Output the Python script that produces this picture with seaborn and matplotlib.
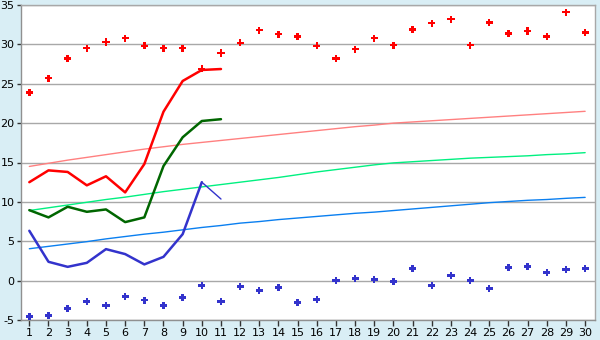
import numpy as np
import pandas as pd
import matplotlib
matplotlib.use("Agg")
import matplotlib.pyplot as plt
import seaborn as sns

days = list(range(1, 31))

record_max = [23.9, 25.7, 28.2, 29.5, 30.3, 30.8, 29.8, 29.5, 29.5, 26.9,
              28.9, 30.2, 31.8, 31.3, 31.0, 29.8, 28.2, 29.4, 30.8, 29.9,
              31.9, 32.7, 33.2, 29.9, 32.8, 31.4, 31.7, 31.0, 34.1, 31.5]
record_min = [-4.55, -4.42, -3.53, -2.65, -3.15, -2.0, -2.5, -3.15, -2.14, -0.6,
              -2.65, -0.74, -1.25, -0.87, -2.77, -2.4, 0.0, 0.28, 0.15, -0.1,
              1.55, -0.6, 0.66, 0.0, -1.0, 1.68, 1.8, 1.04, 1.42, 1.55]

obs_days = list(range(1, 12))
obs_max = [12.5, 14.0, 13.8, 12.1, 13.25, 11.2, 14.8, 21.45, 25.35, 26.75, 26.87]
obs_mean = [8.95, 8.03, 9.38, 8.74, 9.04, 7.43, 8.03, 14.55, 18.2, 20.27, 20.5]
obs_min = [6.33, 2.39, 1.75, 2.26, 4.0, 3.37, 2.06, 3.02, 5.9, 12.5, 10.36]

normal_max = [14.5, 14.9, 15.3, 15.65, 16.0, 16.35, 16.7, 17.0, 17.3, 17.55,
              17.8, 18.05, 18.3, 18.55, 18.8, 19.05, 19.3, 19.55, 19.75, 20.0,
              20.15, 20.3, 20.45, 20.6, 20.75, 20.9, 21.05, 21.2, 21.35, 21.5]
normal_mean = [8.9, 9.25, 9.6, 9.95, 10.3, 10.6, 10.95, 11.3, 11.6, 11.9,
               12.2, 12.5, 12.8, 13.1, 13.45, 13.8, 14.1, 14.4, 14.7, 14.95,
               15.1, 15.25, 15.4, 15.55, 15.65, 15.75, 15.85, 16.0, 16.1, 16.25]
normal_min = [4.05, 4.35, 4.65, 4.95, 5.3, 5.6, 5.9, 6.15, 6.45, 6.75,
              7.0, 7.3, 7.5, 7.75, 7.95, 8.15, 8.35, 8.55, 8.7, 8.9,
              9.1, 9.3, 9.5, 9.7, 9.9, 10.05, 10.2, 10.3, 10.45, 10.57]

y_ticks = [-5, 0, 5, 10, 15, 20, 25, 30, 35]

sns.set_style("white")
plt.rcParams["font.family"] = ["DejaVu Sans"]

fig = plt.figure(figsize=(6.0, 3.4), dpi=100, facecolor="#D9EEF5")
ax = fig.add_axes([20.7 / 600, 1 - 320 / 340, (595.3 - 20.7) / 600, 315 / 340])
ax.set_facecolor("white")

norm = pd.DataFrame({"day": days, "nmax": normal_max, "nmean": normal_mean, "nmin": normal_min,
                     "rmax": record_max, "rmin": record_min})
obs = pd.DataFrame({"day": obs_days, "omax": obs_max, "omean": obs_mean, "omin": obs_min})

for y in y_ticks:
    ax.axhline(y, color="#A8A8A8", lw=1.0, zorder=0)

sns.lineplot(data=norm, x="day", y="nmax", color="#FF8080", lw=1.0, ax=ax)
sns.lineplot(data=norm, x="day", y="nmean", color="#00F080", lw=1.0, ax=ax)
sns.lineplot(data=norm, x="day", y="nmin", color="#0A7FF0", lw=1.0, ax=ax)

sns.lineplot(data=obs, x="day", y="omax", color="#FF0000", lw=1.8, ax=ax)
sns.lineplot(data=obs, x="day", y="omean", color="#006600", lw=1.8, ax=ax)
sns.lineplot(data=obs.iloc[:10], x="day", y="omin", color="#3333CC", lw=1.8, ax=ax)
sns.lineplot(data=obs.iloc[9:11], x="day", y="omin", color="#3333CC", lw=1.0, ax=ax)

sns.scatterplot(data=norm, x="day", y="rmax", color="#FF0000", marker="P", s=26,
                edgecolor="none", ax=ax, zorder=5)
sns.scatterplot(data=norm, x="day", y="rmin", color="#3333CC", marker="P", s=26,
                edgecolor="none", ax=ax, zorder=5)

ax.set_xlim(0.55, 30.53)
ax.set_ylim(-5, 35)
ax.set_xticks(days)
ax.set_xticklabels([str(d) for d in days])
ax.set_yticks(y_ticks)
ax.set_yticklabels([str(v) for v in y_ticks])
ax.set_xlabel("")
ax.set_ylabel("")
ax.tick_params(axis="both", labelsize=8, length=3, width=1, color="#333333",
               labelcolor="#000000", pad=1.5, direction="out")
ax.tick_params(axis="x", bottom=True, length=4, pad=2)
ax.tick_params(axis="y", left=True)
for side in ["top", "right"]:
    ax.spines[side].set_color("#A8A8A8")
    ax.spines[side].set_linewidth(1.0)
for side in ["left", "bottom"]:
    ax.spines[side].set_color("#909090")
    ax.spines[side].set_linewidth(1.0)

fig.savefig("out.png", dpi=100, facecolor=fig.get_facecolor())
